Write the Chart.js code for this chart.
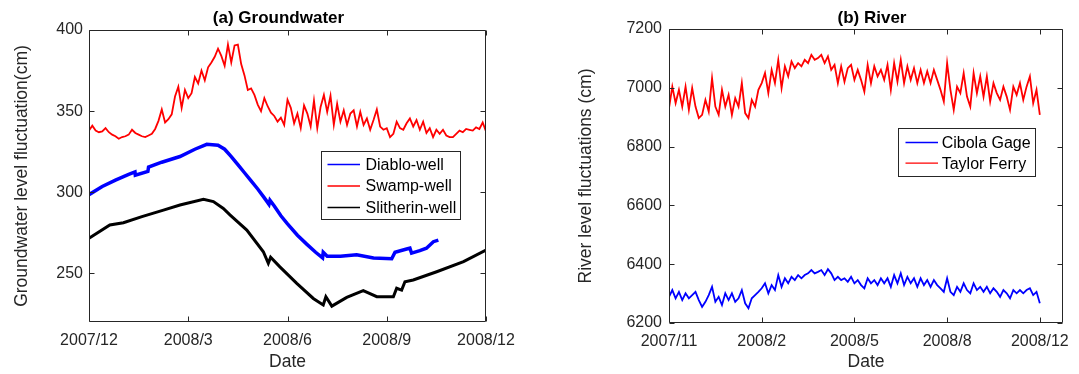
<!DOCTYPE html>
<html lang="en">
<head>
    <meta charset="UTF-8">
    <title>Groundwater and River level fluctuations</title>
    <script src="https://cdn.jsdelivr.net/npm/chart.js"></script>
    <style>
        body { margin: 0; background: #fff; }
        .panel { position: absolute; top: 0; height: 374px; }
        #leftPanel { left: 0; width: 540px; }
        #rightPanel { left: 540px; width: 539px; }
    </style>
</head>
<body>
    <div class="panel" id="leftPanel"><canvas id="gwChart"></canvas></div>
    <div class="panel" id="rightPanel"><canvas id="riverChart"></canvas></div>

    <script>
        // ---- (a) Groundwater: x = months after 2007/12 ----
        const gwTickMonths = [0, 3, 6, 9, 12];
        const gwTickLabels = ['2007/12', '2008/3', '2008/6', '2008/9', '2008/12'];
        const gwLevelTicks = [250, 300, 350, 400];

        // Swamp-well, one reading every 0.1 month
        const swampLevels = [
            338, 341, 338, 337, 337.5, 339.5, 337, 335.5, 334.5, 333,
            334, 334.5, 335.5, 338.5, 336.5, 335.5, 334.5, 334, 335, 336,
            339, 344, 351, 343, 345, 348, 359, 365, 352, 363,
            358, 361, 371, 367, 375, 369, 377, 380, 383.5, 388.5,
            384, 378, 391, 380, 390.5, 391, 379, 372, 363, 364,
            360, 354, 350, 358, 353, 349, 347, 343.5, 346, 341.5,
            357, 352, 342.5, 348.5, 339.5, 353.5, 348.5, 340.5, 356.5, 339.5,
            352.5, 360, 349.5, 359.5, 341.5, 354.5, 343.5, 350.5, 341.5, 348.5,
            350.5, 340.5, 349.5, 341.5, 345.5, 338.5, 344.5, 351, 340.5, 338.5,
            339.5, 334, 336, 343.5, 339.5, 338.5, 342.5, 345.5, 340.5, 344.5,
            338.5, 343.5, 336.5, 339.5, 334, 338.5, 336, 338.5, 335, 334,
            334, 336, 338, 337, 339, 338.5, 338, 340, 339, 343,
            337.5
        ];
        const swampMonths = swampLevels.map((_, i) => i / 10);

        const diabloMonths = [0, 0.4, 0.8, 1.2, 1.39, 1.40, 1.78, 1.80, 2.2, 2.75,
            3.2, 3.56, 3.9, 4.1, 4.3, 4.5, 4.7, 4.9, 5.1, 5.3,
            5.44, 5.47, 5.6, 5.8, 6.0, 6.3, 6.58, 6.85, 7.06, 7.08,
            7.2, 7.6, 8.09, 8.6, 9.15, 9.25, 9.6, 9.7, 9.75, 10.0,
            10.2, 10.41, 10.56];
        const diabloLevels = [298.5, 303.5, 307.5, 311, 312.5, 310.5, 312.8, 315.5, 318.5, 322,
            326.5, 329.5, 329, 326.5, 322, 317, 312, 307, 302, 296.5,
            292.5, 295, 291.5, 285.5, 280.5, 273.5, 268, 263, 259.5, 263,
            260.5, 260.5, 261.5, 259.5, 259, 263, 265, 265.5, 262.5, 264,
            265.5, 269.5, 270.5];

        const slitherinMonths = [0, 0.63, 1.04, 1.6, 2.25, 2.75, 3.46, 3.76, 4.06, 4.26,
            4.77, 5.27, 5.42, 5.49, 5.77, 6.28, 6.78, 7.08, 7.16, 7.34,
            7.79, 8.29, 8.7, 9.2, 9.3, 9.45, 9.55, 9.8, 10.51, 11.32, 12];
        const slitherinLevels = [271.6, 279.8, 281.2, 285, 289, 292.1, 295.6, 294.2, 290, 286,
            276.7, 263.3, 256.2, 259.9, 254, 243.8, 234.5, 230.5, 235.6, 229.8,
            235.2, 239.3, 235.6, 235.6, 240.8, 239.7, 244.8, 245.9, 251, 257.2, 264.4];

        // ---- (b) River: x = position between the date ticks ----
        const riverTickPos = [0, 1, 2, 3, 4];
        const riverTickLabels = ['2007/11', '2008/2', '2008/5', '2008/8', '2008/12'];
        const riverLevelTicks = [6200, 6400, 6600, 6800, 7000, 7200];

        const taylorLevels = [
            6931, 7004, 6948, 6993, 6936, 7004, 6925, 6999, 6936, 6897,
            6908, 6959, 6919, 7033, 6936, 6908, 6993, 6936, 6976, 6908,
            6965, 6936, 7016, 6914, 6897, 6959, 6936, 6993, 7016, 7050,
            6982, 7061, 7016, 7095, 6999, 7073, 7039, 7090, 7067, 7084,
            7073, 7095, 7084, 7112, 7095, 7101, 7112, 7084, 7107, 7061,
            7078, 7016, 7073, 7021, 7067,
            7078, 7027, 7061, 7027, 6987, 7078, 7016, 7073, 7039, 7061,
            7027, 7078, 6993, 7084, 7021, 7095, 7016, 7073, 7027, 7067,
            7016, 7061, 7016, 7056, 7016, 7061, 7027, 6993, 6953, 7084,
            6993, 6925, 7004, 6982, 7050, 6970, 6936, 7050, 6982, 7039,
            6970, 7039, 6953, 7016, 6982, 6959, 7004, 6970, 6925, 7004,
            6976, 7016, 6959, 7004, 7039, 6948, 6993, 6908
        ];
        const cibolaLevels = [
            6289, 6312, 6284, 6306, 6278, 6301, 6284, 6295, 6306, 6278,
            6255, 6272, 6295, 6323, 6272, 6289, 6261, 6301, 6278, 6301,
            6272, 6284, 6312, 6267, 6250, 6284, 6295, 6306, 6318, 6335,
            6301, 6329, 6312, 6363, 6323, 6352, 6335, 6357, 6346, 6363,
            6352, 6363, 6369, 6380, 6369, 6374, 6380, 6363, 6383, 6369,
            6346, 6357, 6346, 6352, 6340,
            6357, 6335, 6346, 6329, 6318, 6352, 6335, 6346, 6329, 6352,
            6335, 6352, 6323, 6363, 6335, 6369, 6329, 6357, 6335, 6352,
            6323, 6352, 6329, 6346, 6323, 6346, 6329, 6318, 6306, 6352,
            6306, 6295, 6323, 6306, 6335, 6312, 6301, 6335, 6312, 6323,
            6306, 6323, 6301, 6318, 6306, 6289, 6312, 6301, 6284, 6312,
            6301, 6312, 6301, 6312, 6318, 6295, 6306, 6267
        ];
        const riverPos = taylorLevels.map((_, i) => i * 4 / (taylorLevels.length - 1));

        // ---- shared look ----
        const FONT = '"Liberation Sans", Arial, Helvetica, sans-serif';
        const AXIS_COLOR = '#262626';
        Chart.defaults.font.family = FONT;

        const toPoints = (xs, ys) => ys.map((v, i) => ({ x: xs[i], y: v }));

        // box around the axes with inward tick marks (MATLAB style)
        const frameTicks = {
            id: 'frameTicks',
            afterDatasetsDraw(chart) {
                const { ctx, chartArea: a, scales: { x, y } } = chart;
                const L = Math.round(a.left) + 0.5, R = Math.round(a.right) - 0.5;
                const T = Math.round(a.top) + 0.5, B = Math.round(a.bottom) - 0.5;
                const len = 5;
                ctx.save();
                ctx.strokeStyle = AXIS_COLOR;
                ctx.lineWidth = 1;
                ctx.beginPath();
                ctx.rect(L, T, R - L, B - T);
                x.ticks.forEach(t => {
                    const px = Math.round(x.getPixelForValue(t.value)) + 0.5;
                    ctx.moveTo(px, B); ctx.lineTo(px, B - len);
                    ctx.moveTo(px, T); ctx.lineTo(px, T + len);
                });
                y.ticks.forEach(t => {
                    const py = Math.round(y.getPixelForValue(t.value)) + 0.5;
                    ctx.moveTo(L, py); ctx.lineTo(L + len, py);
                    ctx.moveTo(R, py); ctx.lineTo(R - len, py);
                });
                ctx.stroke();
                ctx.restore();
            }
        };

        const panelTitle = {
            id: 'panelTitle',
            afterDraw(chart, args, o) {
                const { ctx, chartArea: a } = chart;
                ctx.save();
                ctx.font = 'bold 17px ' + FONT;
                ctx.fillStyle = '#000';
                ctx.textAlign = 'center';
                ctx.textBaseline = 'middle';
                ctx.fillText(o.text, (a.left + a.right) / 2 + o.dx, o.y);
                ctx.restore();
            }
        };

        // legend box inside the plot
        const boxLegend = {
            id: 'boxLegend',
            afterDraw(chart, args, o) {
                const { ctx, chartArea: a } = chart;
                const x0 = Math.round(a.left + o.left), y0 = Math.round(a.top + o.top);
                ctx.save();
                ctx.fillStyle = '#fff';
                ctx.fillRect(x0, y0, o.width, o.height);
                ctx.strokeStyle = AXIS_COLOR;
                ctx.lineWidth = 1;
                ctx.strokeRect(x0 + 0.5, y0 + 0.5, o.width, o.height);
                ctx.font = '16px ' + FONT;
                ctx.textAlign = 'left';
                ctx.textBaseline = 'middle';
                o.order.forEach((di, i) => {
                    const ds = chart.data.datasets[di];
                    const ry = y0 + o.firstRow + i * o.rowHeight;
                    ctx.strokeStyle = ds.borderColor;
                    ctx.lineWidth = 1.3;
                    ctx.beginPath();
                    ctx.moveTo(x0 + o.lineStart, ry);
                    ctx.lineTo(x0 + o.lineEnd, ry);
                    ctx.stroke();
                    ctx.fillStyle = '#000';
                    ctx.fillText(ds.label, x0 + o.textX, ry + 1);
                });
                ctx.restore();
            }
        };

        function axisX(min, max, tickVals, tickLabels, height) {
            return {
                type: 'linear', min: min, max: max,
                afterBuildTicks: s => { s.ticks = tickVals.map(v => ({ value: v })); },
                afterFit: s => { s.height = height; },
                ticks: {
                    callback: v => tickLabels[tickVals.indexOf(v)],
                    autoSkip: false, maxRotation: 0, padding: 9,
                    color: AXIS_COLOR, font: { size: 16 }
                },
                grid: { display: false, drawTicks: false },
                border: { display: false },
                title: {
                    display: true, text: 'Date', color: AXIS_COLOR,
                    font: { size: 17.5 }, padding: { top: 0, bottom: 1.5 }
                }
            };
        }

        function axisY(min, max, tickVals, label, width, titlePad, tickPad) {
            return {
                type: 'linear', min: min, max: max,
                afterBuildTicks: s => { s.ticks = tickVals.map(v => ({ value: v })); },
                afterFit: s => { s.width = width; },
                ticks: {
                    callback: v => String(v),
                    padding: tickPad, color: AXIS_COLOR, font: { size: 16 }
                },
                grid: { display: false, drawTicks: false },
                border: { display: false },
                title: {
                    display: true, text: label, color: AXIS_COLOR,
                    font: { size: 17.5 }, padding: { top: titlePad, bottom: 0 }
                }
            };
        }

        const lineStyle = (label, color, width) => ({
            label: label, borderColor: color, backgroundColor: color,
            borderWidth: width, pointRadius: 0, tension: 0, fill: false
        });

        // (a) Groundwater
        new Chart(document.getElementById('gwChart'), {
            type: 'line',
            data: {
                datasets: [
                    Object.assign(lineStyle('Diablo-well', '#0000ff', 3.5), { data: toPoints(diabloMonths, diabloLevels) }),
                    Object.assign(lineStyle('Swamp-well', '#ff0000', 1.8), { data: toPoints(swampMonths, swampLevels) }),
                    Object.assign(lineStyle('Slitherin-well', '#000000', 3), { data: toPoints(slitherinMonths, slitherinLevels) })
                ]
            },
            options: {
                responsive: true, maintainAspectRatio: false, animation: false,
                layout: { padding: { top: 30, right: 54, bottom: 0, left: 0 } },
                scales: {
                    x: axisX(0, 12, gwTickMonths, gwTickLabels, 52),
                    y: axisY(220, 400, gwLevelTicks, 'Groundwater level fluctuation(cm)', 89, 12, 6)
                },
                plugins: {
                    legend: { display: false },
                    tooltip: { enabled: false },
                    panelTitle: { text: '(a) Groundwater', dx: -9, y: 18 },
                    boxLegend: {
                        order: [0, 1, 2], left: 232, top: 121, width: 139, height: 68,
                        firstRow: 13.5, rowHeight: 21.5, lineStart: 6.5, lineEnd: 39, textX: 44.5
                    }
                }
            },
            plugins: [frameTicks, panelTitle, boxLegend]
        });

        // (b) River
        new Chart(document.getElementById('riverChart'), {
            type: 'line',
            data: {
                datasets: [
                    Object.assign(lineStyle('Cibola Gage', '#0000ff', 1.8), { data: toPoints(riverPos, cibolaLevels) }),
                    Object.assign(lineStyle('Taylor Ferry', '#ff0000', 1.8), { data: toPoints(riverPos, taylorLevels) })
                ]
            },
            options: {
                responsive: true, maintainAspectRatio: false, animation: false,
                layout: { padding: { top: 29, right: 16, bottom: 0, left: 0 } },
                scales: {
                    x: axisX(0, 4.25, riverTickPos, riverTickLabels, 51),
                    y: axisY(6200, 7200, riverLevelTicks, 'River level fluctuations (cm)', 129, 36, 7)
                },
                plugins: {
                    legend: { display: false },
                    tooltip: { enabled: false },
                    panelTitle: { text: '(b) River', dx: 6, y: 18 },
                    boxLegend: {
                        order: [0, 1], left: 229, top: 99, width: 137, height: 48,
                        firstRow: 14.5, rowHeight: 20.7, lineStart: 7.5, lineEnd: 40, textX: 43.7
                    }
                }
            },
            plugins: [frameTicks, panelTitle, boxLegend]
        });
    </script>
</body>
</html>
